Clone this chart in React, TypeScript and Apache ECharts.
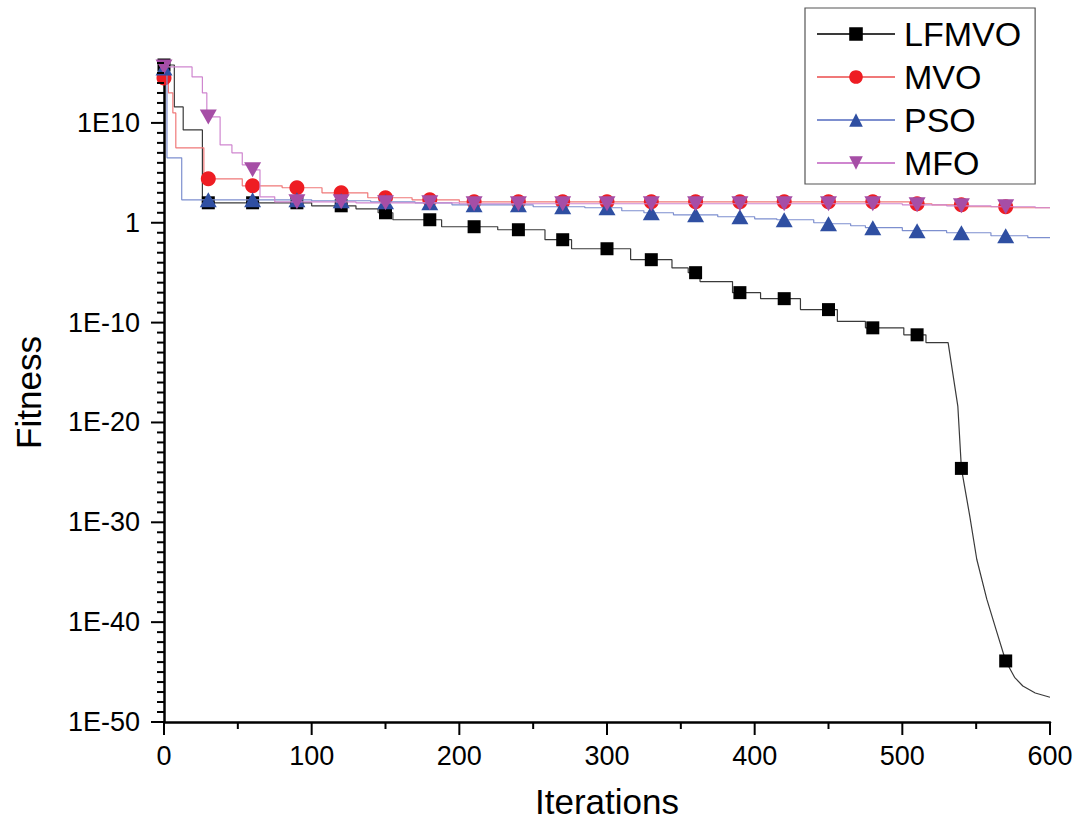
import React, { useEffect, useRef } from 'react';
import * as echarts from 'echarts';

// Iterations at which markers are drawn
const MARKER_ITERS = [0, 30, 60, 90, 120, 150, 180, 210, 240, 270, 300, 330, 360, 390, 420, 450, 480, 510, 540, 570];
const SERIES_NAMES = ['LFMVO', 'MVO', 'PSO', 'MFO'];
// Axis ticks
const X_MAJOR_TICKS = [0, 100, 200, 300, 400, 500, 600];
const X_MINOR_TICKS = [50, 150, 250, 350, 450, 550];
const Y_MAJOR_TICKS = [1e-50, 1e-40, 1e-30, 1e-20, 1e-10, 1, 1e10];
const Y_MINOR_TICKS = [
  1e-49, 1e-48, 1e-47, 1e-46, 1e-45, 1e-44, 1e-43, 1e-42, 1e-41,
  1e-39, 1e-38, 1e-37, 1e-36, 1e-35, 1e-34, 1e-33, 1e-32, 1e-31,
  1e-29, 1e-28, 1e-27, 1e-26, 1e-25, 1e-24, 1e-23, 1e-22, 1e-21,
  1e-19, 1e-18, 1e-17, 1e-16, 1e-15, 1e-14, 1e-13, 1e-12, 1e-11,
  1e-9, 1e-8, 1e-7, 1e-6, 1e-5, 1e-4, 1e-3, 1e-2, 1e-1,
  1e1, 1e2, 1e3, 1e4, 1e5, 1e6, 1e7, 1e8, 1e9,
  1e11, 1e12, 1e13, 1e14, 1e15, 1e16,
];

// Best fitness so far: [iteration where the value changes, new value]
const LFMVO_STEPS: [number, number][] = [
  [0, 6.3e15], [7, 4e11], [13, 2e9], [26, 100], [100, 50], [130, 25], [145, 10], [155, 2],
  [188, 0.4], [226, 0.2], [258, 0.02], [276, 2.5e-3], [316, 2e-4], [344, 3e-5], [355, 1e-5],
  [363, 1.3e-6], [385, 1e-7], [404, 2.5e-8], [431, 2e-9], [456, 1.3e-10], [475, 3e-11],
  [501, 6e-12], [516, 1e-12],
];
// LFMVO final smooth descent: [iteration, value]
const LFMVO_TAIL: [number, number][] = [
  [531, 1e-12], [537.6, 4e-19], [540, 2.5e-25], [545.7, 4e-30], [550.4, 2e-34], [557.2, 2e-38],
  [564, 1e-41], [570, 1.3e-44], [576, 3e-46], [581.6, 4e-47], [590, 8e-48], [600, 3e-48],
];
const MVO_STEPS: [number, number][] = [
  [0, 3.2e14], [3, 1e13], [6, 1e11], [8, 3.2e7], [27, 2.5e4], [53, 5e3], [80, 3.2e3], [107, 1e3],
  [138, 320], [168, 200], [200, 125], [505, 80], [520, 63], [545, 40], [575, 32],
];
const PSO_STEPS: [number, number][] = [
  [0, 3.2e15], [2, 3.2e6], [12, 200], [100, 160], [140, 125], [170, 100], [195, 63], [250, 40],
  [285, 32], [310, 16], [325, 10], [345, 6.3], [375, 4], [400, 2.5], [415, 2], [440, 1],
  [450, 0.8], [465, 0.5], [475, 0.32], [500, 0.16], [530, 0.1], [560, 0.05], [585, 0.032],
];
const MFO_STEPS: [number, number][] = [
  [0, 4e15], [19, 4e14], [26, 1e13], [29, 4e10], [38, 6.3e7], [46, 1e7], [53, 6.3e5], [58, 2e5],
  [65, 400], [75, 125], [130, 100], [200, 80], [500, 63], [530, 50], [560, 40], [590, 32],
];

const FONT = "'Liberation Sans', Arial, Helvetica, sans-serif";
const Y_MIN = 1e-50;
const Y_MAX = 1e16;

function buildData(steps: [number, number][], tail: [number, number][], endX: number) {
  const path: [number, number][] = [];
  steps.forEach(([x, y], i) => {
    if (i > 0) path.push([x, steps[i - 1][1]]);
    path.push([x, y]);
  });
  if (tail.length) tail.forEach((p) => path.push(p));
  else path.push([endX, steps[steps.length - 1][1]]);

  const valueAt = (it: number) => {
    const t = tail.find((p) => p[0] === it);
    if (t) return t[1];
    let v = steps[0][1];
    for (const [x, y] of steps) if (x <= it) v = y;
    return v;
  };

  const items: any[] = path.map((p) => ({ value: p, symbol: 'none' }));
  for (const m of MARKER_ITERS) {
    const v = valueAt(m);
    let idx = -1;
    for (let i = 0; i < items.length; i++) if (items[i].value[0] <= m) idx = i;
    if (idx >= 0 && items[idx].value[0] === m && items[idx].value[1] === v) {
      items[idx] = { value: items[idx].value };
    } else {
      items.splice(idx + 1, 0, { value: [m, v] });
    }
  }
  return items;
}

// Tick marks as thin rectangles placed through the axes' own scales
function tickMarks(data: number[][], size: number[], offset: number[]) {
  return {
    type: 'scatter',
    silent: true,
    clip: false,
    z: 10,
    symbol: 'rect',
    symbolSize: size,
    symbolOffset: offset,
    itemStyle: { color: '#000', opacity: 1 },
    emphasis: { disabled: true },
    data,
  };
}

export default function App() {
  const ref = useRef<HTMLDivElement>(null);
  useEffect(() => {
    if (!ref.current) return;
    const chart = echarts.init(ref.current, null, { renderer: 'svg' });
    const common = { type: 'line', showAllSymbol: true };
    chart.setOption({
      animation: false,
      backgroundColor: '#fff',
      grid: { left: 164, right: 41, top: 63, bottom: 104 },
      legend: {
        data: SERIES_NAMES,
        orient: 'vertical',
        left: 805,
        top: 8,
        padding: [9, 14, 4, 11],
        itemWidth: 78,
        itemHeight: 17,
        itemGap: 9,
        borderColor: '#555',
        borderWidth: 1.2,
        textStyle: { fontSize: 34, color: '#000', fontFamily: FONT, padding: [0, 0, 0, 4] },
      },
      xAxis: {
        type: 'value',
        min: 0,
        max: 600,
        interval: 100,
        name: 'Iterations',
        nameLocation: 'middle',
        nameGap: 62,
        nameTextStyle: { fontSize: 35, color: '#000', fontFamily: FONT },
        axisLine: { show: true, onZero: false, lineStyle: { color: '#000', width: 2.5 } },
        axisTick: { show: false },
        axisLabel: { fontSize: 27, color: '#000', margin: 20, fontFamily: FONT, hideOverlap: false },
        splitLine: { show: false },
      },
      yAxis: {
        type: 'log',
        logBase: 10,
        min: Y_MIN,
        max: Y_MAX,
        name: 'Fitness',
        nameLocation: 'middle',
        nameGap: 118,
        nameTextStyle: { fontSize: 35, color: '#000', fontFamily: FONT },
        axisLine: { show: true, onZero: false, lineStyle: { color: '#000', width: 2.5 } },
        axisTick: { show: false, customValues: Y_MAJOR_TICKS },
        axisLabel: {
          fontSize: 27,
          color: '#000',
          margin: 24,
          fontFamily: FONT,
          customValues: Y_MAJOR_TICKS,
          formatter: (v: number) => {
            const e = Math.round(Math.log10(v));
            return e === 0 ? '1' : '1E' + e;
          },
        },
        splitLine: { show: false },
      },
      series: [
        {
          ...common,
          name: 'LFMVO',
          data: buildData(LFMVO_STEPS, LFMVO_TAIL, 600),
          symbol: 'rect',
          symbolSize: 13,
          lineStyle: { color: '#3a3a3a', width: 1.2 },
          itemStyle: { color: '#000' },
          z: 2,
        },
        {
          ...common,
          name: 'MVO',
          data: buildData(MVO_STEPS, [], 600),
          symbol: 'circle',
          symbolSize: 15,
          lineStyle: { color: '#f07878', width: 1.2 },
          itemStyle: { color: '#ee1d23' },
          z: 3,
        },
        {
          ...common,
          name: 'PSO',
          data: buildData(PSO_STEPS, [], 600),
          symbol: 'triangle',
          symbolSize: [17, 15],
          lineStyle: { color: '#7d8fcf', width: 1.2 },
          itemStyle: { color: '#2f4fa2' },
          z: 4,
        },
        {
          ...common,
          name: 'MFO',
          data: buildData(MFO_STEPS, [], 600),
          symbol: 'triangle',
          symbolRotate: 180,
          symbolSize: [17, 15],
          lineStyle: { color: '#cf86cf', width: 1.2 },
          itemStyle: { color: '#a64ea6' },
          z: 5,
        },
        tickMarks(X_MAJOR_TICKS.map((v) => [v, Y_MIN]), [2, 13], [0, 6.5]),
        tickMarks(X_MINOR_TICKS.map((v) => [v, Y_MIN]), [2, 7], [0, 3.5]),
        tickMarks(Y_MAJOR_TICKS.map((v) => [0, v]), [13, 2], [-6.5, 0]),
        tickMarks(Y_MINOR_TICKS.map((v) => [0, v]), [7, 2], [-3.5, 0]),
      ],
    });
    return () => chart.dispose();
  }, []);
  return (
    <div
      ref={ref}
      style={{ position: 'fixed', left: 0, top: 0, width: 1091, height: 826, background: '#fff' }}
    />
  );
}
